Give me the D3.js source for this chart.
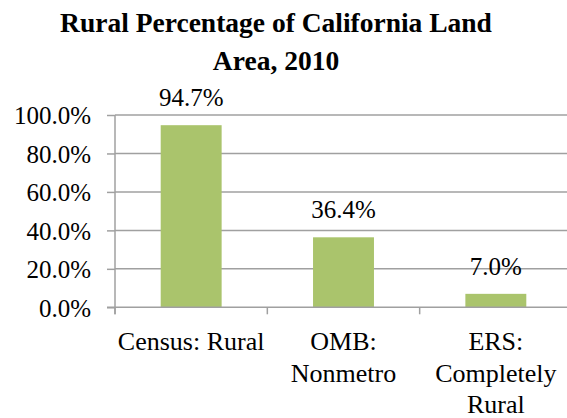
<!DOCTYPE html>
<html><head><meta charset="utf-8">
<script src="https://cdn.jsdelivr.net/npm/d3@7/dist/d3.min.js"></script>
<style>body{margin:0;background:#fff}svg{display:block}</style>
</head><body>
<svg id="c" width="567" height="418"></svg>
<script>
const categories = [["Census: Rural"], ["OMB:", "Nonmetro"], ["ERS:", "Completely", "Rural"]];
const values = [0.947, 0.364, 0.070];
const valueLabels = ["94.7%", "36.4%", "7.0%"];
const yTicks = [0, 0.2, 0.4, 0.6, 0.8, 1.0];
const titleLines = ["Rural Percentage of California Land", "Area, 2010"];

const FONT = "Liberation Serif";
const svg = d3.select("#c").attr("font-family", FONT).style("font-family", FONT);
const mLeft = 115, mRight = 572, mTop = 115, mBottom = 307.3;
const x = d3.scaleBand().domain(d3.range(values.length)).range([mLeft, mRight]).paddingInner(0.6).paddingOuter(0.3);
const xb = d3.scaleBand().domain(d3.range(values.length)).range([mLeft, mRight]);
const y = d3.scaleLinear().domain([0, 1]).range([mBottom, mTop]);
const grey = "#A0A0A0";

// gridlines
svg.append("g").selectAll("line").data(yTicks.filter(d => d > 0)).join("line")
  .attr("x1", mLeft).attr("x2", mRight).attr("y1", d => y(d)).attr("y2", d => y(d))
  .attr("stroke", grey).attr("stroke-width", 1.5);

// y axis
const yAxis = d3.axisLeft(y).tickValues(yTicks).tickSize(8).tickPadding(16).tickFormat(d3.format(".1%"));
const gy = svg.append("g").attr("transform", `translate(${mLeft},0)`).call(yAxis)
  .attr("font-family", FONT).attr("font-size", 25);
gy.select(".domain").remove();
gy.selectAll(".tick line").attr("stroke", grey).attr("stroke-width", 1.5);
gy.selectAll(".tick text").attr("fill", "#000").attr("dy", "0.35em")
  .attr("font-family", FONT).attr("font-size", 25)
  .style("font-family", FONT).style("font-size", "25px");
svg.append("line").attr("x1", mLeft).attr("x2", mLeft).attr("y1", mTop).attr("y2", mBottom + 7)
  .attr("stroke", grey).attr("stroke-width", 1.5);

// bars
svg.append("g").selectAll("rect").data(values).join("rect")
  .attr("x", (d, i) => x(i)).attr("width", x.bandwidth())
  .attr("y", d => y(d)).attr("height", d => y(0) - y(d))
  .attr("fill", "#AAC46C");

// x axis
svg.append("line").attr("x1", mLeft - 8).attr("x2", mRight).attr("y1", mBottom).attr("y2", mBottom)
  .attr("stroke", grey).attr("stroke-width", 1.5);
svg.append("g").selectAll("line").data(d3.range(values.length)).join("line")
  .attr("x1", i => xb(i)).attr("x2", i => xb(i)).attr("y1", mBottom).attr("y2", mBottom + 7)
  .attr("stroke", grey).attr("stroke-width", 1.5);

// category labels
const cl = svg.append("g").selectAll("text").data(categories).join("text")
  .attr("text-anchor", "middle").attr("fill", "#000")
  .attr("font-family", FONT).attr("font-size", 26)
  .style("font-family", FONT).style("font-size", "26px")
  .attr("transform", (d, i) => `translate(${x(i) + x.bandwidth() / 2},350)`);
cl.selectAll("tspan").data(d => d).join("tspan")
  .attr("x", 0).attr("y", (d, j) => j * 31.5).text(d => d);

// value labels
svg.append("g").selectAll("text").data(values).join("text")
  .attr("text-anchor", "middle").attr("fill", "#000")
  .attr("font-family", FONT).attr("font-size", 25)
  .style("font-family", FONT).style("font-size", "25px")
  .attr("x", (d, i) => x(i) + x.bandwidth() / 2).attr("y", d => y(d) - 19)
  .text((d, i) => valueLabels[i]);

// title
svg.append("text").attr("text-anchor", "middle").attr("fill", "#000")
  .attr("font-family", FONT)
  .style("font-family", FONT).style("font-size", "27.5px").style("font-weight", "bold")
  .selectAll("tspan").data(titleLines).join("tspan")
  .attr("x", 276).attr("y", (d, i) => 32 + i * 38).text(d => d);
</script>
</body></html>
